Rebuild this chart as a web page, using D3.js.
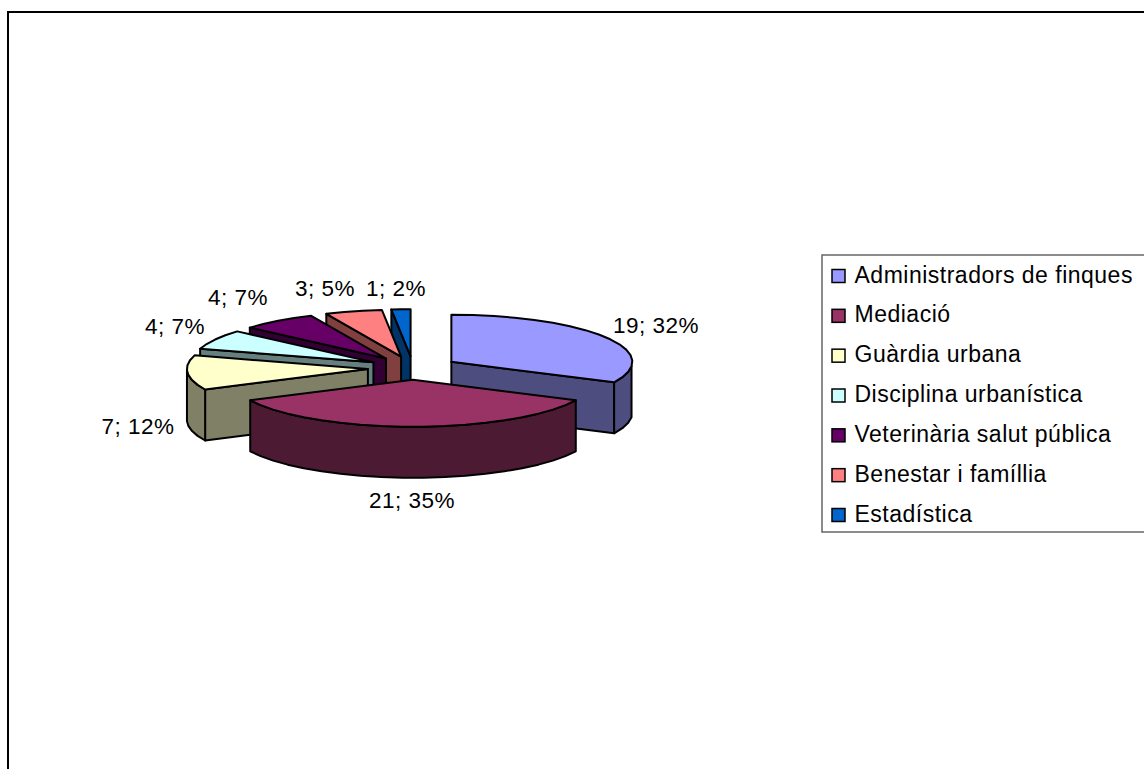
<!DOCTYPE html>
<html>
<head>
<meta charset="utf-8">
<script src="https://cdn.jsdelivr.net/npm/d3@7"></script>
<style>
  body { margin: 0; background: #fff; overflow: hidden; }
  text { font-family: "Liberation Sans", Arial, sans-serif; fill: #000; letter-spacing: 0.5px; }
</style>
</head>
<body>
<svg></svg>
<script>
const w = 1144;
const h = 769;

// Data
const categories = ["Administradors de finques", "Mediació", "Guàrdia urbana", "Disciplina urbanística",
    "Veterinària salut pública", "Benestar i famíllia", "Estadística"];
const values = [19, 21, 7, 4, 4, 3, 1];
const pieLabels = ["19; 32%", "21; 35%", "7; 12%", "4; 7%", "4; 7%", "3; 5%", "1; 2%"];
const labelX = [656, 412, 138, 175, 238, 325, 396];
const labelY = [333, 508, 434, 334, 305, 296, 296];
const topColors = ["#9999ff", "#993366", "#ffffcc", "#ccffff", "#660066", "#ff8080", "#0066cc"];
const sideColors = ["#4d4d80", "#4d1a33", "#808066", "#668080", "#330033", "#804040", "#003366"];

const svg = d3.select("svg")
    .attr("width", w)
    .attr("height", h);

// chart frame, runs off the bottom and right of the picture
svg.append("rect")
    .attr("x", 8).attr("y", 12)
    .attr("width", w + 20).attr("height", h + 20)
    .attr("fill", "#fff").attr("stroke", "#000").attr("stroke-width", 2);

// Pie geometry
const cx = 413, cy = 368, rx = 181, ry = 47, depth = 51, explode = 0.25;

const slices = d3.pie().sort(null)(values);
slices.forEach((d, i) => {
    const mid = (d.startAngle + d.endAngle) / 2;
    d.index = i;
    d.mid = mid;
    d.ax = cx + explode * rx * Math.sin(mid);
    d.ay = cy - explode * ry * Math.cos(mid);
});

const onRim = (d, a, dy = 0) => [d.ax + rx * Math.sin(a), d.ay - ry * Math.cos(a) + dy];
const rimAngles = d => {
    const n = Math.max(2, Math.ceil((d.endAngle - d.startAngle) / 0.12));
    return d3.range(n + 1).map(k => d.startAngle + (d.endAngle - d.startAngle) * k / n);
};
const line = d3.line();

const vis = svg.append("g")
    .attr("stroke", "#000")
    .attr("stroke-width", 2)
    .attr("stroke-linejoin", "round");

// back slices first, Mediació goes on top of everything
const order = [6, 5, 4, 3, 2, 0, 1];

order.forEach(i => {
    const d = slices[i];
    const g = vis.append("g").attr("class", "slice");
    const side = sideColors[i];

    // flat cut face: only the one turned towards the viewer
    const holdsFront = d.startAngle < Math.PI && d.endAngle > Math.PI;
    if (!holdsFront) {
        const a = d.mid < Math.PI ? d.endAngle : d.startAngle;
        const p = onRim(d, a);
        g.append("path")
            .attr("fill", side)
            .attr("d", line([[d.ax, d.ay], p, [p[0], p[1] + depth], [d.ax, d.ay + depth]]) + "Z");
    }

    // outer curved wall, only the part that faces the viewer
    const front = rimAngles(d).filter(a => Math.cos(a) < 0.02);
    if (front.length > 1) {
        g.append("path")
            .attr("fill", side)
            .attr("d", line(front.map(a => onRim(d, a))
                .concat(front.slice().reverse().map(a => onRim(d, a, depth)))) + "Z");
    }

    // top face
    g.append("path")
        .attr("fill", topColors[i])
        .attr("d", line([[d.ax, d.ay]].concat(rimAngles(d).map(a => onRim(d, a)))) + "Z");
});

// data labels
svg.selectAll(".pie-label")
    .data(pieLabels)
    .enter()
    .append("text")
    .attr("class", "pie-label")
    .attr("x", (d, i) => labelX[i])
    .attr("y", (d, i) => labelY[i])
    .attr("text-anchor", "middle")
    .attr("font-size", 22.5)
    .text(d => d);

// Legend
const legendY = d3.scalePoint()
    .domain(categories)
    .range([276, 515]);

svg.append("rect")
    .attr("x", 822).attr("y", 255)
    .attr("width", 340).attr("height", 277)
    .attr("fill", "#fff").attr("stroke", "#666").attr("stroke-width", 1.5);

const legend = svg.selectAll(".legend-item")
    .data(categories)
    .enter()
    .append("g")
    .attr("class", "legend-item")
    .attr("transform", d => `translate(832,${legendY(d)})`);

legend.append("rect")
    .attr("y", -6.5)
    .attr("width", 13).attr("height", 13)
    .attr("fill", (d, i) => topColors[i])
    .attr("stroke", "#000").attr("stroke-width", 1.5);

legend.append("text")
    .attr("x", 22.5)
    .attr("y", 6.5)
    .attr("font-size", 23)
    .text(d => d);
</script>
</body>
</html>
